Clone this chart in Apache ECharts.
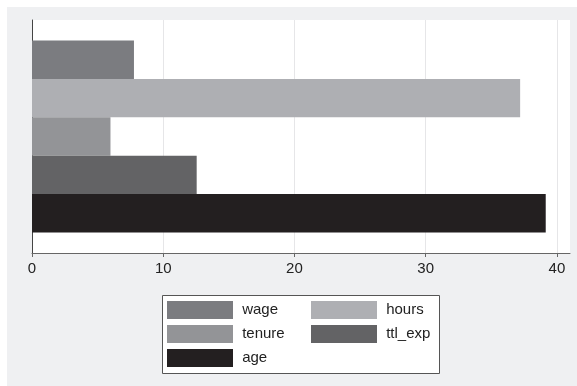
<!DOCTYPE html>
<html>
<head>
<meta charset="utf-8">
<script src="https://cdn.jsdelivr.net/npm/echarts@6/dist/echarts.min.js"></script>
<style>
html,body{margin:0;padding:0;background:#ffffff;overflow:hidden;}
#chart{width:577px;height:386px;}
</style>
</head>
<body>
<div id="chart"></div>
<script>
var seriesNames = ['wage', 'hours', 'tenure', 'ttl_exp', 'age'];
var seriesValues = [7.77, 37.2, 5.98, 12.55, 39.15];
var seriesColors = ['#7b7c80', '#aeafb3', '#939497', '#636365', '#231f20'];
var legendCol1 = ['wage', 'tenure', 'age'];
var legendCol2 = ['hours', 'ttl_exp'];
var tickValues = [0, 10, 20, 30, 40];
var categories = ['mean'];

var chart = echarts.init(document.getElementById('chart'), null, {renderer: 'canvas'});
var series = seriesNames.map(function (name, i) {
  return {
    name: name,
    type: 'bar',
    data: [seriesValues[i]],
    barGap: '0%',
    barCategoryGap: '17.6%',
    itemStyle: {color: seriesColors[i]},
    emphasis: {disabled: true},
    silent: true
  };
});

function makeLegend(names, left) {
  return {
    data: names,
    left: left, top: 301,
    orient: 'vertical',
    itemWidth: 66, itemHeight: 18, itemGap: 6,
    padding: 0,
    icon: 'rect',
    selectedMode: false,
    itemStyle: {borderWidth: 0},
    formatter: function (name) { return ' ' + name; },
    textStyle: {
      color: '#222222', fontSize: 15,
      fontFamily: 'Liberation Sans, Arial, sans-serif'
    }
  };
}

chart.setOption({
  animation: false,
  backgroundColor: '#ffffff',
  graphic: [{
    type: 'rect', z: -10, silent: true,
    shape: {x: 7, y: 7, width: 570, height: 379},
    style: {fill: '#eff0f2'}
  }, {
    type: 'rect', z: 1, silent: true,
    shape: {x: 162.5, y: 295.5, width: 277, height: 78},
    style: {fill: '#ffffff', stroke: '#555555', lineWidth: 1}
  }],
  grid: {
    left: 32, top: 20, right: 7, bottom: 133,
    show: true, backgroundColor: '#ffffff', borderWidth: 0
  },
  xAxis: {
    type: 'value', min: 0, max: 41, interval: 10,
    axisLine: {show: true, lineStyle: {color: '#666666', width: 1}},
    axisTick: {show: true, length: 4, customValues: tickValues, lineStyle: {color: '#666666'}},
    axisLabel: {
      customValues: tickValues,
      margin: 8, color: '#222222', fontSize: 15,
      fontFamily: 'Liberation Sans, Arial, sans-serif'
    },
    splitLine: {show: true, lineStyle: {color: '#e6e6e8', width: 1}}
  },
  yAxis: {
    type: 'category', data: categories, inverse: true,
    axisLine: {show: true, lineStyle: {color: '#444444', width: 1}},
    axisTick: {show: false},
    axisLabel: {show: false},
    splitLine: {show: false}
  },
  legend: [makeLegend(legendCol1, 167), makeLegend(legendCol2, 311)],
  series: series
});
</script>
</body>
</html>
